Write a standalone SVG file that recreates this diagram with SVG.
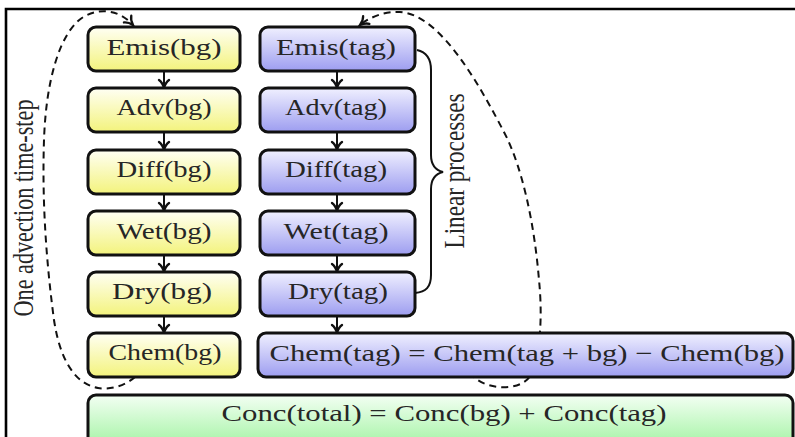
<svg xmlns="http://www.w3.org/2000/svg" width="795" height="437" viewBox="0 0 795 437">
<style>
.box{stroke:#111;stroke-width:3}
.yb{fill:url(#gy)}
.bb{fill:url(#gb)}
.gb{fill:url(#gg)}
.t{font-family:"Liberation Serif","Times New Roman",serif;font-size:23px;fill:#262626;text-anchor:middle}
.c{stroke:#111;stroke-width:2;fill:none}
.d{stroke:#111;stroke-width:2;fill:none;stroke-dasharray:7 5}
</style>
<defs>
<linearGradient id="gy" x1="0" y1="0" x2="0" y2="1"><stop offset="0" stop-color="#fffff4"/><stop offset="1" stop-color="#f3f37c"/></linearGradient>
<linearGradient id="gb" x1="0" y1="0" x2="0" y2="1"><stop offset="0" stop-color="#f0f0ff"/><stop offset="1" stop-color="#9d9df0"/></linearGradient>
<linearGradient id="gg" x1="0" y1="0" x2="0" y2="1"><stop offset="0" stop-color="#f3fff3"/><stop offset="1" stop-color="#a6f4a6"/></linearGradient>
<marker id="ar" markerUnits="userSpaceOnUse" viewBox="-11 -7 13 14" markerWidth="13" markerHeight="14" refX="0" refY="0" orient="auto">
<path d="M-8,-5 C-6,-2.2 -2.5,-0.7 0,0 C-2.5,0.7 -6,2.2 -8,5" fill="none" stroke="#111" stroke-width="2.3" stroke-linecap="round"/>
</marker>
</defs>
<rect x="0" y="0" width="795" height="437" fill="#fff"/>
<path d="M6,437 V9 H795" fill="none" stroke="#000" stroke-width="2.6"/>

<g id="connectors">
<path class="d" d="M135,377 C125,386 110,390 98,388 C75,384 60,360 54,320 C46,260 42,200 44,140 C46,80 60,30 85,16 C105,6 122,13 133,25" marker-end="url(#ar)"/>
<path class="d" d="M470,372 C480,390 520,393 530,376 C542,350 542,310 539,280 C534,220 522,170 507,138 C480,85 440,14 400,12 C385,11 370,17 360,25" marker-end="url(#ar)"/>
<path class="c" d="M164,71 V88" marker-end="url(#ar)"/>
<path class="c" d="M164,132 V150" marker-end="url(#ar)"/>
<path class="c" d="M164,194 V211" marker-end="url(#ar)"/>
<path class="c" d="M164,255 V272" marker-end="url(#ar)"/>
<path class="c" d="M164,316 V333" marker-end="url(#ar)"/>
<path class="c" d="M337,71 V88" marker-end="url(#ar)"/>
<path class="c" d="M337,132 V150" marker-end="url(#ar)"/>
<path class="c" d="M337,194 V211" marker-end="url(#ar)"/>
<path class="c" d="M337,255 V272" marker-end="url(#ar)"/>
<path class="c" d="M337,316 V333" marker-end="url(#ar)"/>
</g>

<g id="brace">
<path d="M417,50 C426,52 431,58 431,70 V155 C431,165 435,170 443,172 C435,174 431,179 431,189 V275 C431,287 426,292 415,293" fill="none" stroke="#111" stroke-width="2"/>
<text class="t" transform="translate(464,171) rotate(-90) scale(1,1.25)" textLength="155" lengthAdjust="spacingAndGlyphs">Linear processes</text>
</g>

<g id="timestep-label">
<text class="t" transform="translate(33,208) rotate(-90) scale(1,1.25)" textLength="217" lengthAdjust="spacingAndGlyphs">One advection time-step</text>
</g>

<g id="emis-bg"><rect class="box yb" x="88" y="27" width="152" height="44" rx="8"/><text class="t" x="164" y="55" textLength="115" lengthAdjust="spacingAndGlyphs">Emis(bg)</text></g>
<g id="adv-bg"><rect class="box yb" x="88" y="88" width="152" height="44" rx="8"/><text class="t" x="164" y="115" textLength="95" lengthAdjust="spacingAndGlyphs">Adv(bg)</text></g>
<g id="diff-bg"><rect class="box yb" x="88" y="150" width="152" height="44" rx="8"/><text class="t" x="164" y="177" textLength="95" lengthAdjust="spacingAndGlyphs">Diff(bg)</text></g>
<g id="wet-bg"><rect class="box yb" x="88" y="211" width="152" height="44" rx="8"/><text class="t" x="164" y="239" textLength="95" lengthAdjust="spacingAndGlyphs">Wet(bg)</text></g>
<g id="dry-bg"><rect class="box yb" x="88" y="272" width="152" height="44" rx="8"/><text class="t" x="162" y="299" textLength="100" lengthAdjust="spacingAndGlyphs">Dry(bg)</text></g>
<g id="chem-bg"><rect class="box yb" x="88" y="333" width="152" height="44" rx="8"/><text class="t" x="165" y="360" textLength="113" lengthAdjust="spacingAndGlyphs">Chem(bg)</text></g>

<g id="emis-tag"><rect class="box bb" x="260" y="27" width="155" height="44" rx="8"/><text class="t" x="336" y="55" textLength="120" lengthAdjust="spacingAndGlyphs">Emis(tag)</text></g>
<g id="adv-tag"><rect class="box bb" x="260" y="88" width="155" height="44" rx="8"/><text class="t" x="336" y="115" textLength="102" lengthAdjust="spacingAndGlyphs">Adv(tag)</text></g>
<g id="diff-tag"><rect class="box bb" x="260" y="150" width="155" height="44" rx="8"/><text class="t" x="336" y="177" textLength="102" lengthAdjust="spacingAndGlyphs">Diff(tag)</text></g>
<g id="wet-tag"><rect class="box bb" x="260" y="211" width="155" height="44" rx="8"/><text class="t" x="336" y="239" textLength="105" lengthAdjust="spacingAndGlyphs">Wet(tag)</text></g>
<g id="dry-tag"><rect class="box bb" x="260" y="272" width="155" height="44" rx="8"/><text class="t" x="338" y="299" textLength="100" lengthAdjust="spacingAndGlyphs">Dry(tag)</text></g>

<g id="chem-tag"><rect class="box bb" x="258" y="333" width="535" height="44" rx="8"/><text class="t" x="527" y="361" textLength="515" lengthAdjust="spacingAndGlyphs">Chem(tag) = Chem(tag + bg) − Chem(bg)</text></g>

<g id="conc-total"><rect class="box gb" x="88" y="395" width="705" height="50" rx="8"/><text class="t" x="444" y="421" textLength="445" lengthAdjust="spacingAndGlyphs">Conc(total) = Conc(bg) + Conc(tag)</text></g>
</svg>
